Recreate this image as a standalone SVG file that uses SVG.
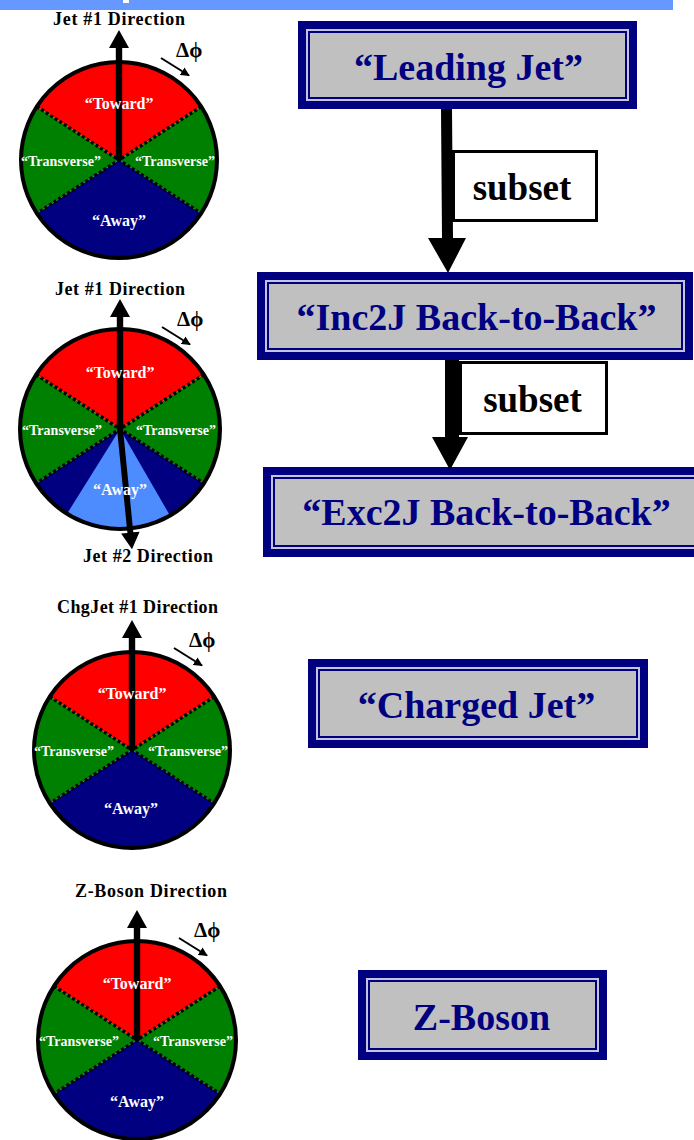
<svg xmlns="http://www.w3.org/2000/svg" xmlns:xlink="http://www.w3.org/1999/xlink" width="694" height="1140" viewBox="0 0 694 1140">
  <style>
    .serif { font-family: "Liberation Serif", "Times New Roman", serif; font-weight: bold; }
    .dirlabel { font-size: 18px; fill: #000; }
    .dphi { font-size: 21px; fill: #000; }
    .region { font-size: 16px; fill: #fff; text-anchor: middle; }
    .trans { font-size: 14px; fill: #fff; text-anchor: middle; }
    .boxtext { font-size: 38px; fill: #000080; text-anchor: middle; }
    .subtext { font-size: 37px; fill: #000; text-anchor: middle; }
    .frame { fill: #000080; }
    .frame-line { fill: none; stroke: #C4C4DC; stroke-width: 2; }
    .frame-face { fill: #C0C0C0; }
    .toward { fill: #FF0000; }
    .transverse { fill: #008000; }
    .away { fill: #000080; }
    .away-light { fill: #4D8CFF; }
    .dots { fill: none; stroke: #000; stroke-width: 3.4; stroke-dasharray: 3 2.4; }
    .rim { fill: none; stroke: #000; stroke-width: 4; }
    .subbox { fill: #fff; stroke: #000; stroke-width: 3; }
  </style>
  <defs>
    <marker id="smallHead" viewBox="0 0 10 10" refX="9" refY="5" markerWidth="4.5" markerHeight="4.5" orient="auto" markerUnits="strokeWidth">
      <path d="M0,0 L10,5 L0,10 Z" fill="#000"/>
    </marker>
    <!-- dial sectors, radius 98, boundaries 33 degrees off the horizontal -->
    <path id="secToward" d="M0,0 L-82.2,-53.4 A98,98 0 0 1 82.2,-53.4 Z"/>
    <path id="secRight" d="M0,0 L82.2,-53.4 A98,98 0 0 1 82.2,53.4 Z"/>
    <path id="secAway" d="M0,0 L82.2,53.4 A98,98 0 0 1 -82.2,53.4 Z"/>
    <path id="secLeft" d="M0,0 L-82.2,53.4 A98,98 0 0 1 -82.2,-53.4 Z"/>
    <g id="dialBase">
      <use href="#secToward" class="toward"/>
      <use href="#secRight" class="transverse"/>
      <use href="#secAway" class="away"/>
      <use href="#secLeft" class="transverse"/>
    </g>
    <g id="dialLines">
      <path class="dots" d="M-82.2,-53.4 L0,0 L82.2,53.4 M82.2,-53.4 L0,0 L-82.2,53.4"/>
      <circle class="rim" cx="0" cy="0" r="98"/>
    </g>
    <!-- thick direction arrow, tip 130 above the dial centre -->
    <path id="jetArrow" d="M-3.2,0 L-3.2,-112 L-10,-112 L0,-130 L10,-112 L3.2,-112 L3.2,0 Z" fill="#000"/>
    <g id="dphiMark">
      <line x1="42" y1="-102" x2="70" y2="-84.5" stroke="#000" stroke-width="2" marker-end="url(#smallHead)"/>
      <text class="serif dphi" x="57" y="-103">Δϕ</text>
    </g>
    <g id="regionLabels" class="serif">
      <text class="region" x="0" y="-51">“Toward”</text>
      <text class="trans" x="-58" y="6" textLength="80" lengthAdjust="spacing">“Transverse”</text>
      <text class="trans" x="56" y="6" textLength="80" lengthAdjust="spacing">“Transverse”</text>
    </g>
  </defs>

  <!-- header strip -->
  <rect x="0" y="0" width="673" height="10" fill="#6699FF"/>
  <rect x="123" y="0" width="6" height="3" fill="#fff"/>

  <!-- dial: leading jet -->
  <g id="dial-leading-jet" transform="translate(119,160)">
    <use href="#dialBase"/>
    <use href="#dialLines"/>
    <use href="#jetArrow"/>
    <use href="#regionLabels"/>
    <text class="serif region" x="0" y="66">“Away”</text>
    <use href="#dphiMark"/>
    <text class="serif dirlabel" x="-66" y="-135" textLength="132" lengthAdjust="spacing">Jet #1 Direction</text>
  </g>

  <!-- dial: back-to-back jets -->
  <g id="dial-back-to-back" transform="translate(120,429)">
    <g transform="scale(1.02)">
      <use href="#dialBase"/>
      <path class="away-light" d="M0,0 L-51.9,83.1 A98,98 0 0 0 49,84.9 Z"/>
      <use href="#dialLines"/>
    </g>
    <use href="#jetArrow"/>
    <use href="#jetArrow" transform="rotate(174.3) scale(0.93)"/>
    <use href="#regionLabels"/>
    <text class="serif region" x="0" y="66">“Away”</text>
    <use href="#dphiMark"/>
    <text class="serif dirlabel" x="-65" y="-134" textLength="130" lengthAdjust="spacing">Jet #1 Direction</text>
    <text class="serif dirlabel" x="-37" y="133" textLength="130" lengthAdjust="spacing">Jet #2 Direction</text>
  </g>

  <!-- dial: charged jet -->
  <g id="dial-charged-jet" transform="translate(132,750)">
    <use href="#dialBase"/>
    <use href="#dialLines"/>
    <use href="#jetArrow"/>
    <use href="#regionLabels"/>
    <text class="serif region" x="-1" y="64">“Away”</text>
    <use href="#dphiMark"/>
    <text class="serif dirlabel" x="-75" y="-137" textLength="161" lengthAdjust="spacing">ChgJet #1 Direction</text>
  </g>

  <!-- dial: Z boson -->
  <g id="dial-z-boson" transform="translate(137,1040)">
    <g transform="scale(1.01)">
      <use href="#dialBase"/>
      <use href="#dialLines"/>
    </g>
    <use href="#jetArrow"/>
    <use href="#regionLabels"/>
    <text class="serif region" x="0" y="67">“Away”</text>
    <use href="#dphiMark"/>
    <text class="serif dirlabel" x="-62" y="-143" textLength="152" lengthAdjust="spacing">Z-Boson Direction</text>
  </g>

  <!-- selection boxes -->
  <g id="box-leading-jet">
    <rect class="frame" x="298" y="21" width="339" height="88"/>
    <rect class="frame-line" x="307" y="30" width="321" height="70"/>
    <rect class="frame-face" x="310" y="33" width="315" height="64"/>
    <text class="serif boxtext" x="468.5" y="80">“Leading Jet”</text>
  </g>
  <g id="box-inc2j">
    <rect class="frame" x="257" y="272" width="436" height="88"/>
    <rect class="frame-line" x="266" y="281" width="418" height="70"/>
    <rect class="frame-face" x="269" y="284" width="412" height="64"/>
    <text class="serif boxtext" x="476.5" y="330">“Inc2J Back-to-Back”</text>
  </g>
  <g id="box-exc2j">
    <rect class="frame" x="263" y="467" width="445" height="90"/>
    <rect class="frame-line" x="272" y="476" width="427" height="72"/>
    <rect class="frame-face" x="275" y="479" width="421" height="66"/>
    <text class="serif boxtext" x="486.5" y="525">“Exc2J Back-to-Back”</text>
  </g>
  <g id="box-charged-jet">
    <rect class="frame" x="308" y="659" width="340" height="89"/>
    <rect class="frame-line" x="317" y="668" width="322" height="71"/>
    <rect class="frame-face" x="320" y="671" width="316" height="65"/>
    <text class="serif boxtext" x="476.5" y="718">“Charged Jet”</text>
  </g>
  <g id="box-z-boson">
    <rect class="frame" x="358" y="970" width="249" height="90"/>
    <rect class="frame-line" x="367" y="979" width="231" height="72"/>
    <rect class="frame-face" x="370" y="982" width="225" height="66"/>
    <text class="serif boxtext" x="481.5" y="1030">Z-Boson</text>
  </g>

  <!-- subset connectors -->
  <g id="connectors">
    <path d="M441,109 L452,109 L453,238 L466,238 L448,273 L428,238 L442,238 Z" fill="#000"/>
    <rect class="subbox" x="453.5" y="151.5" width="143" height="69"/>
    <text class="serif subtext" x="522" y="200">subset</text>

    <path d="M445,360 L459,360 L459,437 L468,437 L450,470 L432,437 L445,437 Z" fill="#000"/>
    <rect class="subbox" x="460.5" y="362.5" width="146" height="71"/>
    <text class="serif subtext" x="532.5" y="412">subset</text>
  </g>
</svg>
